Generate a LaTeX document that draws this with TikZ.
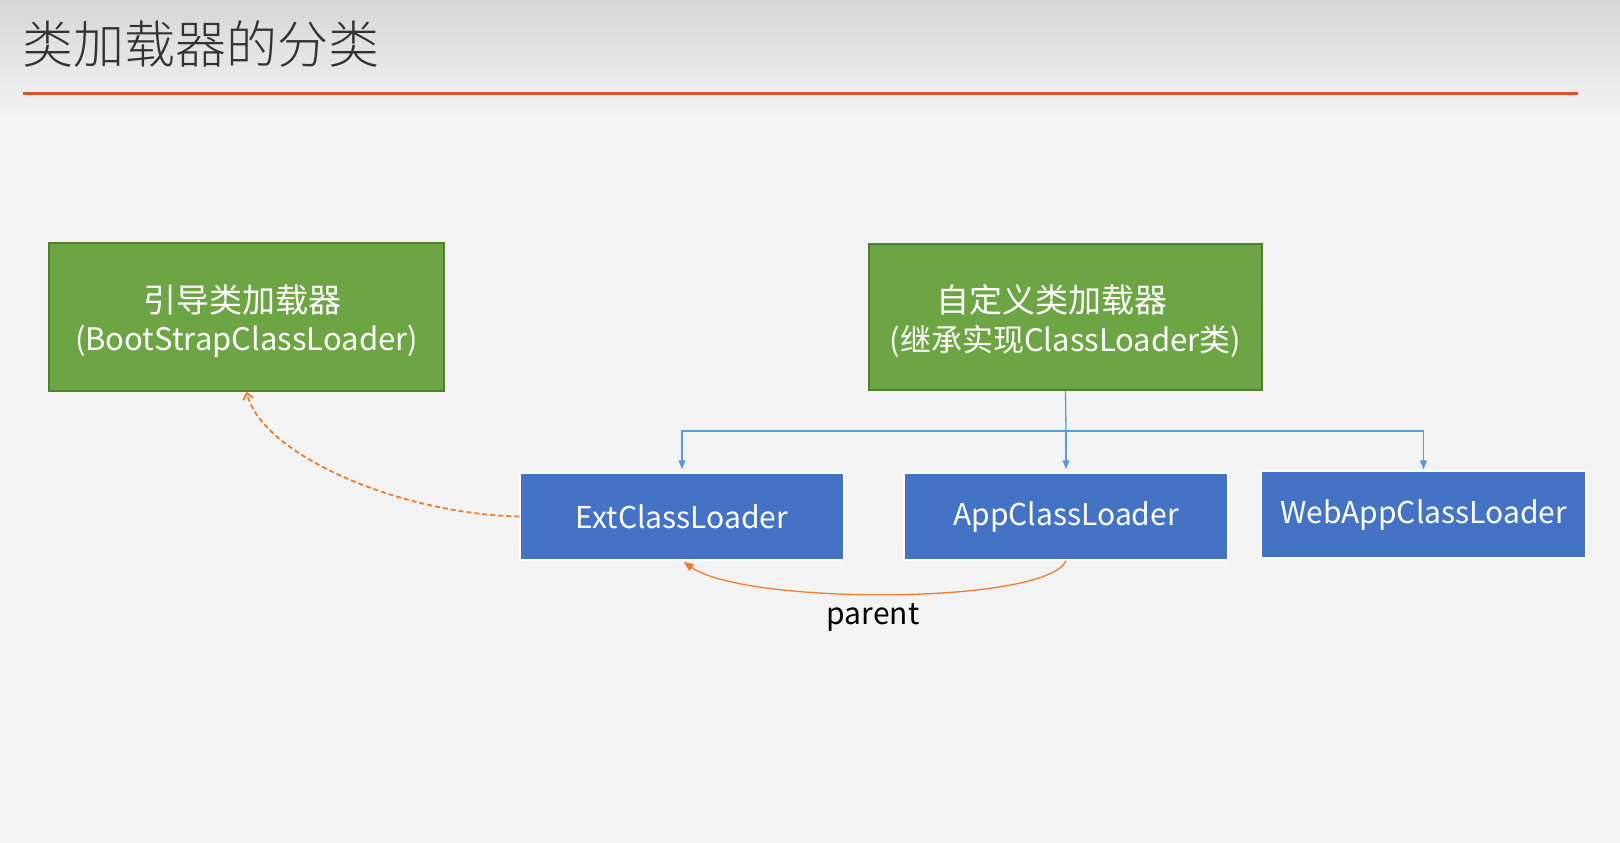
\documentclass[tikz,border=0pt]{standalone}
\usepackage{fontspec}
\setmainfont{Noto Sans CJK SC}
\IfFontExistsTF{Noto Sans CJK SC Light}{\newfontfamily\titlefont{Noto Sans CJK SC Light}}{\newfontfamily\titlefont{Noto Sans CJK SC}}
\usetikzlibrary{arrows.meta}
\definecolor{bggray}{HTML}{F3F3F3}
\definecolor{topgray}{HTML}{D6D6D6}
\definecolor{titlecol}{HTML}{333333}
\definecolor{rulecol}{HTML}{E0522B}
\definecolor{greenfill}{HTML}{6EA544}
\definecolor{greenline}{HTML}{4F7F2F}
\definecolor{bluefill}{HTML}{4472C4}
\definecolor{blueconn}{HTML}{5B9BD5}
\definecolor{orangeconn}{HTML}{ED7D31}
\newcommand{\cjkbig}[1]{{\fontsize{33}{40}\selectfont #1}}
\tikzset{
  greenbox/.style={draw=greenline, line width=1.5pt, fill=greenfill, inner sep=0pt},
  greentext/.style={text=white, inner sep=0pt, align=center, font=\fontsize{31}{38.5}\selectfont},
  bluebox/.style={draw=white, line width=1.5pt, fill=bluefill, text=white,
    inner sep=0pt, align=center, font=\fontsize{30}{36}\selectfont},
  blueline/.style={draw=blueconn, line width=1.3pt},
  bluearrow/.style={blueline, -{Triangle[length=9pt,width=7pt]}},
  orangedash/.style={draw=orangeconn, line width=1.8pt, dash pattern=on 5pt off 3pt,
    -{Straight Barb[length=6pt,width=10pt]}},
  orangearrow/.style={draw=orangeconn, line width=1.3pt, -{Triangle[length=10pt,width=8pt]}},
}
\begin{document}
\begin{tikzpicture}[x=1pt,y=-1pt]
\useasboundingbox (0,0) rectangle (1620,843);
\fill[bggray] (0,0) rectangle (1620,843);
\shade[top color=topgray, bottom color=bggray] (0,0) rectangle (1620,115);
\node[anchor=west, text=titlecol, inner sep=0pt, font=\titlefont\fontsize{51}{60}\selectfont] (title) at (22,44) {类加载器的分类};
\draw[rulecol, line width=3pt] (23,93) coordinate (r1) -- (1578,93) coordinate (r2);

\node[greenbox, minimum width=395pt, minimum height=148pt] (g1) at (246.5,317) {};
\node[greentext] (g1t) at ([yshift=-4pt]g1.center) {\cjkbig{引导类加载器}\hspace*{8pt}\\(BootStrapClassLoader)};
\node[greenbox, minimum width=393pt, minimum height=146pt] (g2) at (1065.5,317) {};
\node[greentext] (g2t) at ([yshift=-4pt]g2.center) {\cjkbig{自定义类加载器}\hspace*{28pt}\\(继承实现ClassLoader类)};

\node[bluebox, minimum width=324pt, minimum height=87pt] (ext) at (682,516.5) {ExtClassLoader};
\node[bluebox, minimum width=324pt, minimum height=87pt] (app) at (1066,516.5) {AppClassLoader};
\node[bluebox, minimum width=325pt, minimum height=87pt] (web) at (1423.5,514.5) {WebAppClassLoader};

\draw[blueline] (g2.south) -- (1066,431) coordinate (j);
\draw[bluearrow, shorten >=3pt] (j) -- (app.north);
\draw[bluearrow, shorten >=3pt] (j) -| (ext.north);
\draw[bluearrow, shorten >=1pt] (j) -| (web.north);

\draw[orangedash] (ext.west) .. controls (400,514) and (262,455) .. (g1.south);
\draw[orangearrow, shorten >=2pt] (app.south) .. controls (1046,605) and (745,605) .. (ext.south);
\node[font=\fontsize{30}{36}\selectfont, text=black, inner sep=0pt] (parent) at (873,617) {parent};
\end{tikzpicture}
\end{document}
